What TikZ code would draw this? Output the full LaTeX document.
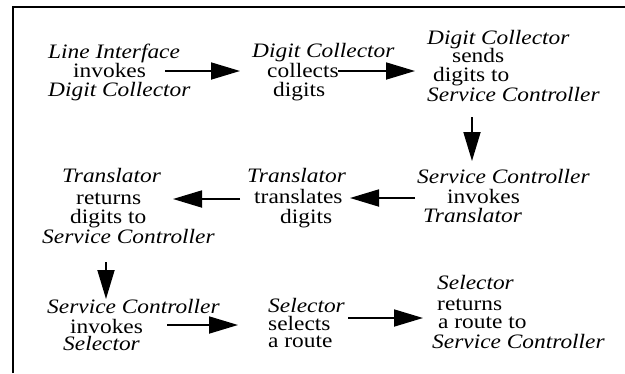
\documentclass[tikz,border=0pt]{standalone}
\usepackage{fontspec}
\setmainfont{Liberation Serif}
\usetikzlibrary{arrows.meta}
\begin{document}
\begin{tikzpicture}[x=1pt,y=-1pt,
  txt/.style={anchor=base west, inner sep=0pt, transform shape, xscale=1.14,
              font=\fontsize{20.5}{19}\selectfont},
  itx/.style={txt, font=\fontsize{20.5}{19}\selectfont\itshape},
  flow/.style={line width=1.8pt, -{Triangle[length=29pt,width=17pt]}},
  frame/.style={line width=2pt}]
\useasboundingbox (0,0) rectangle (625,373);
% open frame: top and left edges
\coordinate (fTL) at (13,6.5);
\coordinate (fTR) at (625,6.5);
\coordinate (fBL) at (13,373);
\draw[frame] (fBL) -- (fTL) -- (fTR);

% row 1
\node[itx] (a1) at (48,58) {Line Interface};
\node[txt] (a2) at (73,77) {invokes};
\node[itx] (a3) at (48,96) {Digit Collector};

\node[itx] (b1) at (252,57.5) {Digit Collector};
\node[txt] (b2) at (267,77) {collects};
\node[txt] (b3) at (273,96) {digits};

\node[itx] (c1) at (427,44) {Digit Collector};
\node[txt] (c2) at (452,62.5) {sends};
\node[txt] (c3) at (433,81.5) {digits to};
\node[itx] (c4) at (427,101) {Service Controller};

% row 2
\node[itx] (d1) at (417,183) {Service Controller};
\node[txt] (d2) at (447,203) {invokes};
\node[itx] (d3) at (423,222) {Translator};

\node[itx] (e1) at (247,182) {Translator};
\node[txt] (e2) at (254,203) {translates};
\node[txt] (e3) at (280,223) {digits};

\node[itx] (f1) at (62,182) {Translator};
\node[txt] (f2) at (76,204) {returns};
\node[txt] (f3) at (70,223) {digits to};
\node[itx] (f4) at (42,243) {Service Controller};

% row 3
\node[itx] (g1) at (47,313) {Service Controller};
\node[txt] (g2) at (70,333) {invokes};
\node[itx] (g3) at (63,350) {Selector};

\node[itx] (h1) at (268,312) {Selector};
\node[txt] (h2) at (268,330) {selects};
\node[txt] (h3) at (268,347) {a route};

\node[itx] (i1) at (437,289) {Selector};
\node[txt] (i2) at (437,310) {returns};
\node[txt] (i3) at (438,328) {a route to};
\node[itx] (i4) at (432,348) {Service Controller};

% arrow end points
\coordinate (ab0) at (165,71);  \coordinate (ab1) at (240,71);
\coordinate (bc0) at (338,71);  \coordinate (bc1) at (415,71);
\coordinate (cd0) at (472,117); \coordinate (cd1) at (472,161);
\coordinate (de0) at (415,198); \coordinate (de1) at (350,198);
\coordinate (ef0) at (240,199); \coordinate (ef1) at (173,199);
\coordinate (fg0) at (106,262); \coordinate (fg1) at (106,299);
\coordinate (gh0) at (167,325); \coordinate (gh1) at (238,325);
\coordinate (hi0) at (348,318); \coordinate (hi1) at (423,318);

\draw[flow] (ab0) -- (ab1);
\draw[flow] (bc0) -- (bc1);
\draw[flow] (cd0) -- (cd1);
\draw[flow] (de0) -- (de1);
\draw[flow] (ef0) -- (ef1);
\draw[flow] (fg0) -- (fg1);
\draw[flow] (gh0) -- (gh1);
\draw[flow] (hi0) -- (hi1);
\end{tikzpicture}
\end{document}
